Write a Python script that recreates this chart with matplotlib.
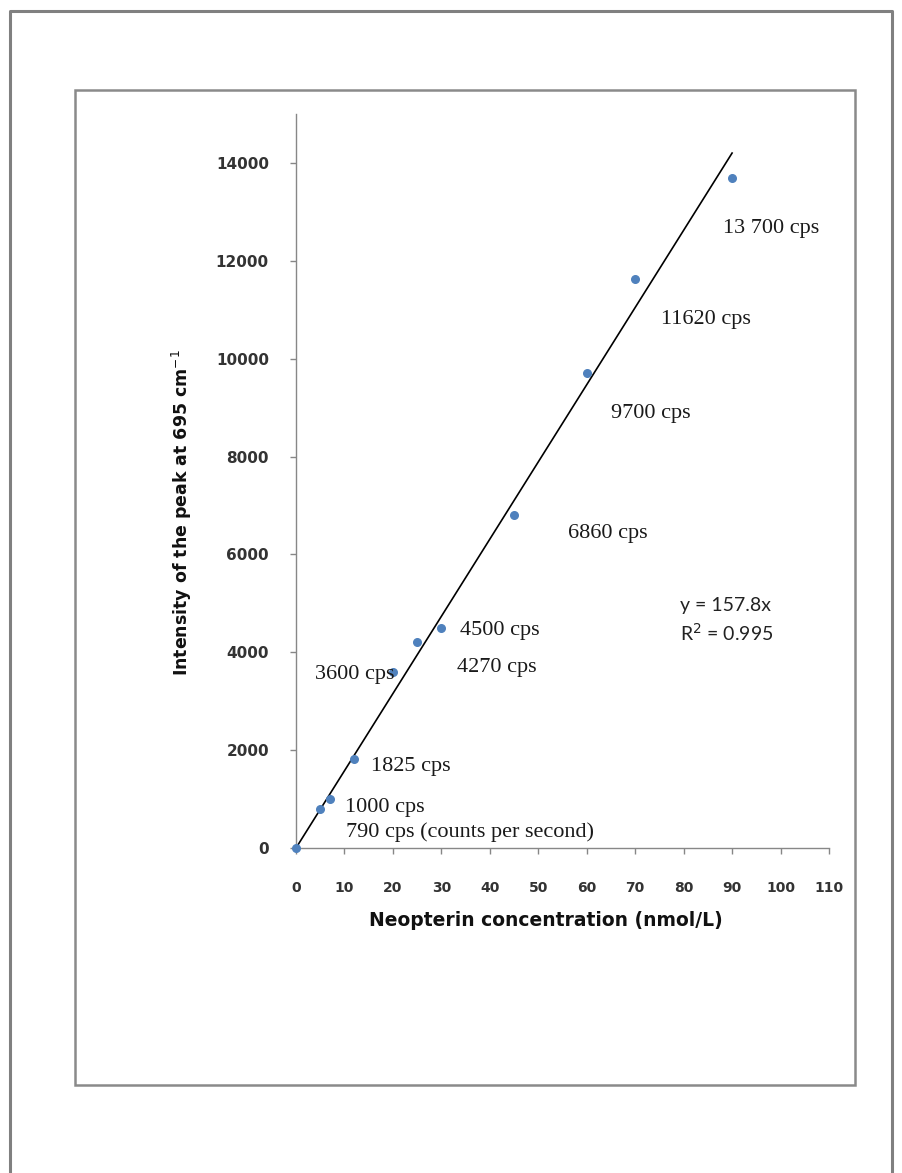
import matplotlib
matplotlib.use("Agg")
import matplotlib.pyplot as plt
from matplotlib.lines import Line2D
from matplotlib.patches import Rectangle

# ---- data ----
concentration = [0, 5, 7, 12, 20, 25, 30, 45, 60, 70, 90]
intensity = [0, 790, 1000, 1825, 3600, 4220, 4500, 6800, 9700, 11620, 13700]
point_labels = ["", "790 cps (counts per second)", "1000 cps", "1825 cps", "3600 cps",
                "4270 cps", "4500 cps", "6860 cps", "9700 cps", "11620 cps", "13 700 cps"]
slope = 157.8
r_squared = 0.995
x_ticks = list(range(0, 111, 10))
y_ticks = list(range(0, 14001, 2000))

# label offsets in pixels (dx, dy)
offsets = [(0, 0), (26, -23), (15, -8), (17, -8), (-78, -3), (40, -26), (19, -3),
           (54, -18), (24, -40), (26, -40), (-9, -51)]

W, H = 902, 1173
fig = plt.figure(figsize=(W / 100, H / 100), dpi=100)
fig.patch.set_facecolor("white")

def fx(px):
    return px / W

def fy(py):
    return 1 - py / H

# outer border (bottom edge runs off the image)
fig.add_artist(Line2D([fx(10), fx(10), fx(892), fx(892)], [fy(1180), fy(11), fy(11), fy(1180)],
                      transform=fig.transFigure, color="#808080", lw=2.2))
# inner chart-area border
fig.add_artist(Rectangle((fx(75), fy(1085)), fx(855) - fx(75), fy(90) - fy(1085),
                         transform=fig.transFigure, fill=False, edgecolor="#8a8a8a", lw=1.8))

ax = fig.add_axes([fx(296), fy(848), fx(829) - fx(296), fy(114) - fy(848)])
ax.set_xlim(0, 110)
ax.set_ylim(0, 15000)
ax.set_xticks(x_ticks)
ax.set_yticks(y_ticks)
for s in ["top", "right"]:
    ax.spines[s].set_visible(False)
for s in ["left", "bottom"]:
    ax.spines[s].set_color("#878787")
    ax.spines[s].set_linewidth(1.0)
ax.tick_params(axis="both", direction="out", length=4.5, width=1.0, color="#878787")
ax.tick_params(axis="x", pad=19)
ax.tick_params(axis="y", pad=15)
for lab in ax.get_xticklabels():
    lab.set_fontfamily("DejaVu Sans")
    lab.set_fontweight("bold")
    lab.set_fontsize(10)
    lab.set_color("#333333")
for lab in ax.get_yticklabels():
    lab.set_fontfamily("DejaVu Sans")
    lab.set_fontweight("bold")
    lab.set_fontsize(11)
    lab.set_color("#333333")

# trend line through origin
ax.plot([0, max(concentration)], [0, slope * max(concentration)], color="black", lw=1.2, zorder=2)
ax.scatter(concentration, intensity, s=30, color="#4F81BD", zorder=3, clip_on=False)

for x, y, t, (dx, dy) in zip(concentration, intensity, point_labels, offsets):
    if t:
        ax.annotate(t, (x, y), xytext=(dx, dy), textcoords="offset pixels",
                    ha="left", va="center", fontsize=16, family="Liberation Serif",
                    color="#1a1a1a")

fig.text(fx(680), fy(605), f"y = {slope}x", fontsize=14, family="Lato", color="#222222",
         ha="left", va="center")
fig.text(fx(680), fy(633), f"R$^2$ = {r_squared}", fontsize=14, family="Lato", color="#222222",
         ha="left", va="center")

fig.text(fx(546), fy(921), "Neopterin concentration (nmol/L)", fontsize=13.5,
         family="DejaVu Sans", fontweight="bold", ha="center", va="center", color="#111111")
fig.text(fx(182), fy(513), "Intensity of the peak at 695 cm$^{-1}$", fontsize=12.5,
         family="DejaVu Sans", fontweight="bold", ha="center", va="center", rotation=90,
         color="#111111")

fig.savefig("out.png", dpi=100)
